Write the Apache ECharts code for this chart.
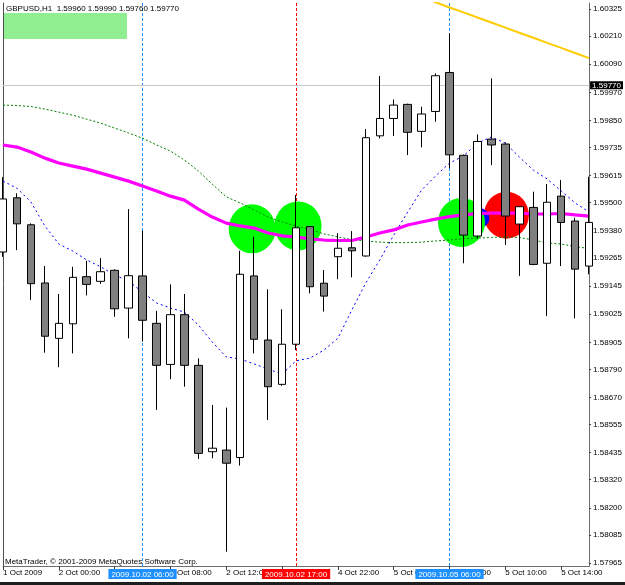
<!DOCTYPE html>
<html>
<head>
<meta charset="utf-8">
<script src="https://cdn.jsdelivr.net/npm/echarts@6/dist/echarts.min.js"></script>
<style>
html,body{margin:0;padding:0;background:#fff;}
#chart{width:625px;height:585px;}
</style>
</head>
<body>
<div id="chart"></div>
<script>
// ---- Data ----
const times = [
  '2009.10.01 20:00','2009.10.01 21:00','2009.10.01 22:00','2009.10.01 23:00',
  '2009.10.02 00:00','2009.10.02 01:00','2009.10.02 02:00','2009.10.02 03:00','2009.10.02 04:00',
  '2009.10.02 05:00','2009.10.02 06:00','2009.10.02 07:00','2009.10.02 08:00','2009.10.02 09:00',
  '2009.10.02 10:00','2009.10.02 11:00','2009.10.02 12:00','2009.10.02 13:00','2009.10.02 14:00',
  '2009.10.02 15:00','2009.10.02 16:00','2009.10.02 17:00','2009.10.02 18:00','2009.10.02 19:00',
  '2009.10.04 22:00','2009.10.04 23:00',
  '2009.10.05 00:00','2009.10.05 01:00','2009.10.05 02:00','2009.10.05 03:00','2009.10.05 04:00',
  '2009.10.05 05:00','2009.10.05 06:00','2009.10.05 07:00','2009.10.05 08:00','2009.10.05 09:00',
  '2009.10.05 10:00','2009.10.05 11:00','2009.10.05 12:00','2009.10.05 13:00','2009.10.05 14:00',
  '2009.10.05 15:00','2009.10.05 16:00'
];
const openP  = [1.59290,1.59521,1.59406,1.59158,1.58922,1.58984,1.59185,1.59165,1.59212,1.59051,1.59188,1.58986,1.58811,1.59023,1.58807,1.58439,1.58446,1.58414,1.59188,1.58915,1.58726,1.58897,1.59398,1.59157,1.59270,1.59308,1.59273,1.59785,1.59859,1.59919,1.59804,1.59889,1.60055,1.59702,1.59358,1.59771,1.59750,1.59409,1.59480,1.59242,1.59528,1.59422,1.59230];
const highP  = [1.59609,1.59540,1.59412,1.59230,1.59111,1.59227,1.59253,1.59264,1.59216,1.59473,1.59381,1.59039,1.59152,1.59111,1.58837,1.58638,1.58627,1.59295,1.59355,1.59131,1.59046,1.59533,1.59400,1.59213,1.59370,1.59379,1.59814,1.60040,1.59940,1.59922,1.59909,1.60051,1.60222,1.59705,1.59791,1.60030,1.59757,1.59486,1.59547,1.59580,1.59597,1.59436,1.59611];
const lowP   = [1.59269,1.59298,1.59085,1.58861,1.58799,1.58858,1.59105,1.59154,1.59014,1.58922,1.58908,1.58617,1.58748,1.58716,1.58408,1.58411,1.58013,1.58380,1.58858,1.58574,1.58720,1.58872,1.59114,1.59036,1.59174,1.59182,1.59270,1.59774,1.59784,1.59703,1.59736,1.59845,1.59646,1.59242,1.59348,1.59660,1.59320,1.59188,1.59234,1.59017,1.59230,1.59007,1.59195];
const closeP = [1.59516,1.59410,1.59155,1.58931,1.58986,1.59182,1.59152,1.59206,1.59048,1.59189,1.58999,1.58807,1.59023,1.58807,1.58432,1.58454,1.58390,1.59195,1.58918,1.58716,1.58897,1.59393,1.59142,1.59102,1.59306,1.59295,1.59777,1.59859,1.59916,1.59800,1.59878,1.60041,1.59704,1.59362,1.59761,1.59746,1.59443,1.59483,1.59237,1.59502,1.59416,1.59217,1.59416];

const maMagenta = [1.59746,1.59737,1.59716,1.59690,1.59669,1.59656,1.59643,1.59626,1.59609,1.59592,1.59571,1.59550,1.59528,1.59511,1.59473,1.59439,1.59413,1.59401,1.59392,1.59371,1.59359,1.59354,1.59346,1.59341,1.59339,1.59339,1.59354,1.59371,1.59384,1.59405,1.59418,1.59430,1.59441,1.59448,1.59454,1.59456,1.59456,1.59456,1.59452,1.59452,1.59454,1.59448,1.59443];
const maGreen   = [1.59916,1.59914,1.59910,1.59899,1.59886,1.59873,1.59856,1.59839,1.59818,1.59797,1.59775,1.59746,1.59720,1.59682,1.59635,1.59579,1.59525,1.59499,1.59469,1.59439,1.59418,1.59401,1.59386,1.59367,1.59354,1.59343,1.59337,1.59332,1.59330,1.59330,1.59332,1.59337,1.59341,1.59347,1.59349,1.59352,1.59354,1.59352,1.59341,1.59328,1.59324,1.59313,1.59305];
const maBlue    = [1.59592,1.59562,1.59503,1.59401,1.59324,1.59294,1.59256,1.59227,1.59192,1.59166,1.59119,1.59073,1.59051,1.59034,1.58979,1.58906,1.58843,1.58834,1.58813,1.58791,1.58770,1.58826,1.58838,1.58872,1.58923,1.59043,1.59158,1.59256,1.59362,1.59460,1.59554,1.59614,1.59669,1.59699,1.59754,1.59780,1.59754,1.59695,1.59639,1.59601,1.59550,1.59499,1.59460];
const maYellow  = [null,null,null,null,null,null,null,null,null,null,null,null,null,null,null,null,null,null,null,null,null,null,null,null,null,null,null,null,null,1.60397,1.60376,1.60354,1.60332,1.60311,1.60289,1.60268,1.60246,1.60224,1.60203,1.60181,1.60160,1.60138,1.60116];

const greenSignals = [[18,1.59389],[21,1.59401],[33,1.59416]];
const redSignals   = [[36,1.59447]];
const blueSignals  = [[34,1.59435]];

const vLinesBlue = [10, 32];
const vLinesRed  = [21];
const currentPrice = 1.59770;

const yTicks = [1.60325,1.60210,1.60090,1.59970,1.59850,1.59735,1.59615,1.59500,1.59380,1.59265,1.59145,1.59025,1.58905,1.58790,1.58670,1.58555,1.58435,1.58320,1.58200,1.58085,1.57965];
const xTickIdx  = [0,4,8,12,16,20,24,28,32,36,40];
const xTickText = ['1 Oct 2009','2 Oct 00:00','2 Oct 04:00','2 Oct 08:00','2 Oct 12:00','2 Oct 16:00','4 Oct 22:00','5 Oct 02:00','5 Oct 06:00','5 Oct 10:00','5 Oct 14:00'];

const headerText = 'GBPUSD,H1  1.59960 1.59990 1.59760 1.59770';
const copyrightText = 'MetaTrader, \u00A9 2001-2009 MetaQuotes Software Corp.';

// ---- font pick ----
let FONT = "'Liberation Sans Narrow'";
let FS = 10;
(function(){
  const c = document.createElement('canvas').getContext('2d');
  c.font = "10px 'Liberation Sans Narrow', monospace";
  const w1 = c.measureText('1.60325').width;
  c.font = "10px monospace";
  const w2 = c.measureText('1.60325').width;
  if (Math.abs(w1 - w2) < 0.01) { FONT = "'Liberation Sans', Arial, sans-serif"; FS = 8; }
})();

const candleData = openP.map((o,i)=>[o, closeP[i], lowP[i], highP[i]]);
const greenNudge = [[-2,0],[2,0],[-2,0]];

const chart = echarts.init(document.getElementById('chart'), null, {renderer:'canvas'});

function vLine(idx, color, bg){
  return {
    xAxis: times[idx],
    lineStyle: {color: color, type: [3,2], width: 1},
    label: {
      show: true, position: 'start', distance: 3,
      formatter: times[idx],
      color: '#fff', backgroundColor: bg,
      fontFamily: FONT, fontSize: FS, lineHeight: 9, padding: [1,3,0,3]
    }
  };
}

const option = {
  animation: false,
  backgroundColor: '#ffffff',
  grid: {left: 3, right: 35.7, top: 3, bottom: 19, containLabel: false},
  xAxis: {
    type: 'category', data: times, boundaryGap: false, max: 42.3,
    axisLine: {show: true, lineStyle: {color: '#6e6e6e', width: 1}},
    axisTick: {show: true, length: 4, interval: (i)=>xTickIdx.includes(i), lineStyle: {color: '#404040'}},
    axisLabel: {
      show: true, interval: (i)=>xTickIdx.includes(i),
      formatter: (v, i)=>{ const k = xTickIdx.indexOf(i); return k>=0 ? xTickText[k] : ''; },
      align: 'left', margin: 3, color: '#000', fontFamily: FONT, fontSize: FS
    },
    splitLine: {show: false}
  },
  yAxis: [{
    type: 'value', position: 'right', min: 1.57952, max: 1.60351, scale: true,
    axisLine: {show: true, lineStyle: {color: '#6e6e6e', width: 1}},
    axisTick: {show: true, length: 2, customValues: yTicks, lineStyle: {color: '#404040'}},
    axisLabel: {show: true, customValues: yTicks, formatter: (v)=>v.toFixed(5), margin: 4,
      color: '#000', fontFamily: FONT, fontSize: FS},
    splitLine: {show: false}
  },{
    type: 'value', position: 'left', min: 1.57952, max: 1.60351,
    axisLine: {show: true, lineStyle: {color: '#505050', width: 1}},
    axisTick: {show: false}, axisLabel: {show: false}, splitLine: {show: false}
  }],
  graphic: [
    {type: 'rect', left: 3, top: 13, shape: {width: 124, height: 26}, style: {fill: '#90ee90'}, z: 0},
    {type: 'text', left: 6, top: 5, style: {text: headerText, fill: '#000', font: FS + 'px ' + FONT}, z: 10},
    {type: 'text', left: 5, top: 558, style: {text: copyrightText, fill: '#000', font: FS + 'px ' + FONT}, z: 10},
    {type: 'rect', left: 0, top: 582, shape: {width: 625, height: 3}, style: {fill: '#1e1e1e'}, z: 10}
  ],
  series: [
    {
      type: 'line', data: [], z: 1, silent: true, clip: false,
      markLine: {
        z: 1,
        symbol: 'none', silent: true, animation: false,
        data: [
          ...vLinesBlue.map(i=>vLine(i, '#1e90ff', '#1e90ff')),
          ...vLinesRed.map(i=>vLine(i, '#ff0000', '#ff0000')),
          {
            yAxis: currentPrice,
            lineStyle: {color: '#c8c8c8', type: 'solid', width: 1},
            label: {show: true, position: 'end', distance: 1, formatter: currentPrice.toFixed(5),
              color: '#fff', backgroundColor: '#000', fontFamily: FONT, fontSize: FS,
              lineHeight: 8, padding: [0,2]}
          }
        ]
      }
    },
    {type: 'scatter', data: redSignals, symbol: 'circle', symbolSize: [45,47], symbolOffset: [1,0], z: 1,
      itemStyle: {color: '#ff0000', opacity: 1}, silent: true},
    {type: 'scatter', data: blueSignals, symbol: 'circle', symbolSize: 20, symbolOffset: [2,0], z: 1,
      itemStyle: {color: '#0000ff', opacity: 1}, silent: true},
    {type: 'scatter', symbol: 'circle', symbolSize: [47,49], z: 1, silent: true,
      itemStyle: {color: '#00ff00', opacity: 1},
      data: greenSignals.map((d,k)=>({value: d, symbolOffset: greenNudge[k]}))},
    {type: 'line', data: maGreen, symbol: 'none', z: 2, silent: true,
      lineStyle: {color: '#008000', width: 1, type: [2,2]}},
    {type: 'line', data: maBlue, symbol: 'none', z: 2, silent: true,
      lineStyle: {color: '#0000ff', width: 1, type: [2,3]}},
    {type: 'line', data: maMagenta, symbol: 'none', z: 2, silent: true,
      lineStyle: {color: '#ff00ff', width: 3.2}},
    {type: 'line', data: maYellow, symbol: 'none', z: 2, silent: true, connectNulls: false,
      lineStyle: {color: '#ffcc00', width: 2}},
    {
      type: 'candlestick', data: candleData, z: 3, barWidth: 8, silent: true,
      itemStyle: {color: '#ffffff', color0: '#808080', borderColor: '#000000', borderColor0: '#000000', borderWidth: 1}
    }
  ]
};
chart.setOption(option);
</script>
</body>
</html>
